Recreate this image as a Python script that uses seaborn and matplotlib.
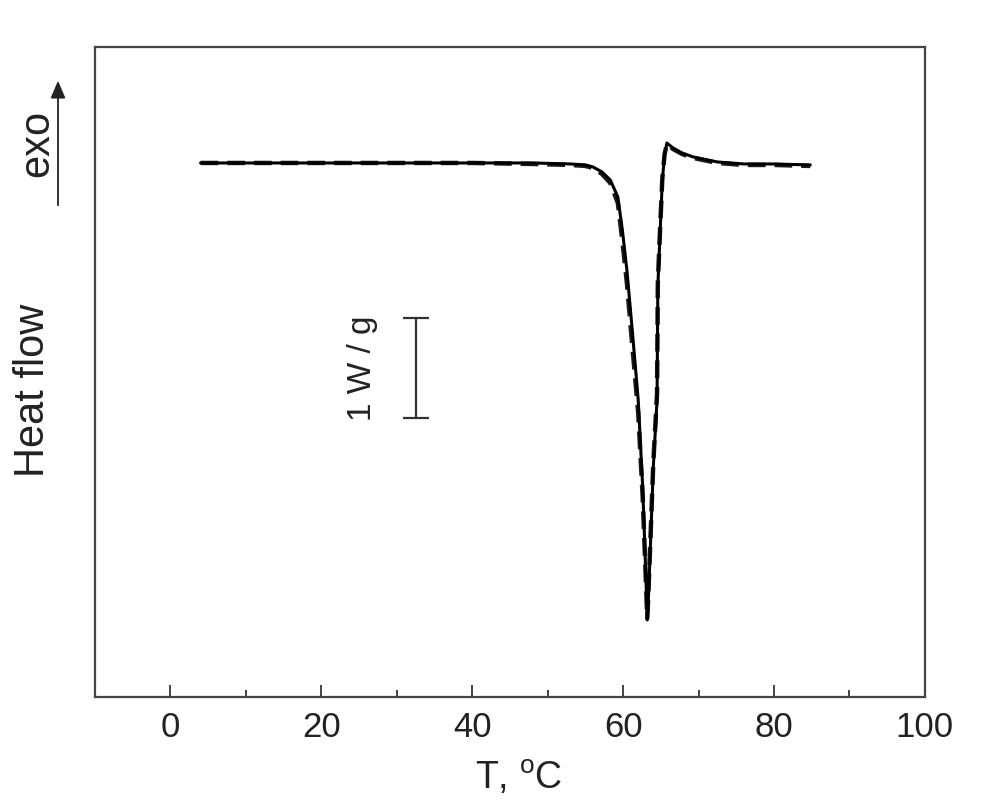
"""
DSC heat-flow curve (melting endotherm) with 1 W/g scale bar
"""

import matplotlib
matplotlib.use("Agg")
import matplotlib.pyplot as plt
import pandas as pd
import seaborn as sns

# ─────────────────────────────────────────────
# Data (T in °C, heat flow in W/g, baseline = 0)
# ─────────────────────────────────────────────
temp_c = [4.0, 10.0, 20.0, 30.0, 40.0, 48.0, 53.0, 55.0, 56.0, 57.2, 58.3,
          59.3, 59.9, 60.5, 61.3, 62.0, 62.6, 63.0, 63.2, 63.3, 63.6, 64.0,
          64.5, 64.6, 64.9, 65.2, 65.5, 65.8, 66.6, 67.8, 69.3, 72.5, 76.0,
          80.0, 84.8]
heat_solid = [0.0, 0.0, 0.0, 0.0, 0.0, 0.0, -0.01, -0.02, -0.04, -0.09, -0.17,
              -0.34, -0.67, -1.07, -1.75, -2.37, -3.25, -4.10, -4.57, -4.45, -3.87, -3.04,
              -2.37, -1.24, -0.70, -0.17, 0.08, 0.20, 0.15, 0.10, 0.06, 0.01, -0.01,
              -0.01, -0.02]
heat_dashed = [0.0, 0.0, 0.0, 0.0, 0.0, -0.01, -0.02, -0.03, -0.05, -0.11, -0.20,
               -0.40, -0.78, -1.20, -1.90, -2.50, -3.35, -4.15, -4.55, -4.40, -3.80, -3.00,
               -2.30, -1.20, -0.66, -0.15, 0.09, 0.19, 0.14, 0.09, 0.05, 0.00, -0.02,
               -0.02, -0.03]

x_ticks = [0, 20, 40, 60, 80, 100]
x_minor = [10, 30, 50, 70, 90]

# scale bar: 1 W/g
bar_x = 32.5
bar_center = -2.05
bar_size = 1.0

sns.set_theme(style="white")
plt.rcParams["font.family"] = ["Liberation Sans", "DejaVu Sans"]
plt.rcParams["mathtext.fontset"] = "custom"
plt.rcParams["mathtext.rm"] = "Liberation Sans"

df = pd.DataFrame({"T": temp_c, "solid": heat_solid, "dashed": heat_dashed})

fig = plt.figure(figsize=(9.85, 8.0), dpi=100)
ax = fig.add_axes([0.0964, 0.1288, 0.8426, 0.8125])

sns.lineplot(data=df, x="T", y="dashed", ax=ax, color="#1a1a1a",
             linewidth=3.2, linestyle=(0, (4, 2)), sort=False)
sns.lineplot(data=df, x="T", y="solid", ax=ax, color="black",
             linewidth=2.2, sort=False)

# scale bar
ax.errorbar([bar_x], [bar_center], yerr=[bar_size / 2], color="#333333",
            elinewidth=1.6, capsize=9.5, capthick=1.6, fmt="none")
ax.text(bar_x - 7.0, bar_center, "1 W / g", rotation=90, ha="center",
        va="center", fontsize=24, color="#222222")

ax.set_xlim(-10, 100)
ax.set_ylim(-5.34, 1.16)
ax.set_xticks(x_ticks)
ax.set_xticks(x_minor, minor=True)
ax.set_xticklabels([str(t) for t in x_ticks])
ax.set_yticks([])
ax.set_xlabel("")
ax.set_ylabel("")

ax.tick_params(axis="x", which="major", direction="in", length=9, width=1.3,
               color="#333333", labelsize=25, pad=10, labelcolor="#222222",
               bottom=True, top=False)
ax.tick_params(axis="x", which="minor", direction="in", length=5, width=1.3,
               color="#333333", bottom=True, top=False)
for side in ["left", "right", "top", "bottom"]:
    ax.spines[side].set_visible(True)
    ax.spines[side].set_color("#444444")
    ax.spines[side].set_linewidth(1.6)

# outside labels
fig.text(0.034, 0.5125, "Heat flow", rotation=90, ha="center", va="center",
         fontsize=30, color="#222222")
fig.text(0.0376, 0.821, "exo", rotation=90, ha="center", va="center",
         fontsize=30, color="#222222")
fig.patches.append(matplotlib.patches.FancyArrowPatch(
    (0.0589, 0.740), (0.0589, 0.9025), transform=fig.transFigure,
    arrowstyle="-|>,head_length=7,head_width=3", color="#222222",
    linewidth=1.3, mutation_scale=1.5))
fig.text(0.527, 0.004, "T, $^{\\mathrm{o}}$C", ha="center", va="bottom",
         fontsize=27, color="#222222")

fig.savefig("out.png", dpi=100)
plt.close()
